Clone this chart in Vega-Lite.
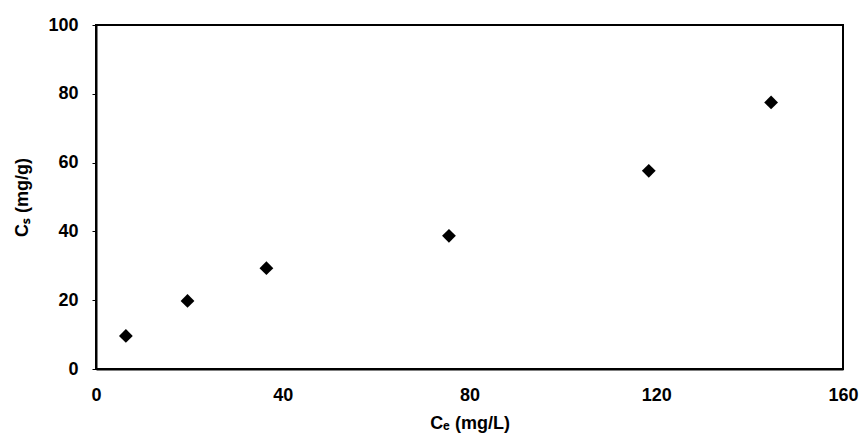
{
  "$schema": "https://vega.github.io/schema/vega-lite/v6.json",
  "autosize": {"type": "none"},
  "padding": {"left": 96, "top": 25, "right": 21, "bottom": 75},
  "width": 747,
  "height": 344,
  "background": "white",
  "config": {
    "view": {"stroke": "black", "strokeWidth": 2},
    "axis": {
      "labelFont": "Liberation Sans",
      "labelFontSize": 18,
      "labelFontWeight": "bold",
      "labelColor": "black",
      "labelFlush": false,
      "titleFont": "Liberation Sans",
      "titleFontSize": 18,
      "titleFontWeight": "bold",
      "titleColor": "black",
      "domainColor": "black",
      "domainWidth": 2,
      "tickColor": "black",
      "grid": false
    }
  },
  "data": {
    "values": [
      {"Ce": 6.4, "Cs": 9.6},
      {"Ce": 19.6, "Cs": 19.8},
      {"Ce": 36.5, "Cs": 29.3},
      {"Ce": 75.6, "Cs": 38.7},
      {"Ce": 118.4, "Cs": 57.6},
      {"Ce": 144.6, "Cs": 77.5}
    ]
  },
  "mark": {"type": "point", "shape": "diamond", "filled": true, "color": "black", "opacity": 1, "size": 190},
  "encoding": {
    "x": {
      "field": "Ce",
      "type": "quantitative",
      "scale": {"domain": [0, 160], "nice": false, "zero": true},
      "axis": {
        "values": [0, 40, 80, 120, 160],
        "title": "Cₑ (mg/L)",
        "tickSize": 0,
        "labelPadding": 17,
        "titlePadding": 10
      }
    },
    "y": {
      "field": "Cs",
      "type": "quantitative",
      "scale": {"domain": [0, 100], "nice": false},
      "axis": {
        "values": [0, 20, 40, 60, 80, 100],
        "title": "Cₛ (mg/g)",
        "tickSize": 4,
        "labelPadding": 14,
        "titlePadding": 16
      }
    }
  }
}
